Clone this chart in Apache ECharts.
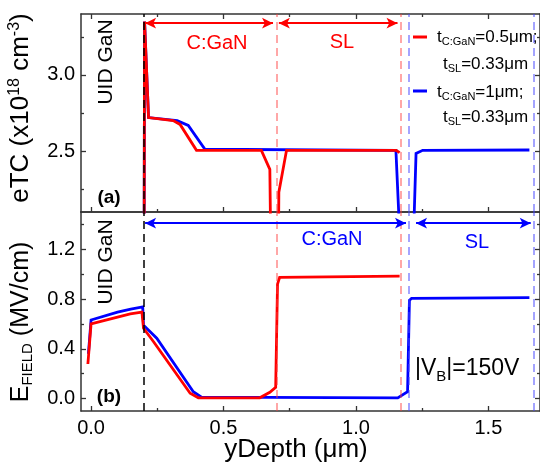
<!DOCTYPE html>
<html>
<head>
<meta charset="utf-8">
<script src="https://cdn.jsdelivr.net/npm/echarts@6/dist/echarts.min.js"></script>
<style>
  html, body { margin: 0; padding: 0; background: #fff; }
  #chart { width: 540px; height: 468px; }
</style>
</head>
<body>
<div id="chart"></div>
<script>
// ---- Panel (a): trap concentration eTC (x1e18 cm^-3) vs depth (um) ----
// t_C:GaN = 0.5 um, t_SL = 0.33 um
const depthEtcThin = [0.200, 0.202, 0.217, 0.310, 0.336, 0.398, 0.643, 0.675, 0.681, 0.706, 0.709, 0.738, 1.152, 1.165];
const etcThin      = [1.50,  3.35,  2.72,  2.70,  2.675, 2.505, 2.505, 2.38,  1.50,  1.50,  2.23,  2.505, 2.505, 2.49];
// t_C:GaN = 1 um, t_SL = 0.33 um
const depthEtcThick = [0.200, 0.202, 0.217, 0.325, 0.367, 0.430, 1.151, 1.177, 1.210, 1.227, 1.252, 1.655];
const etcThick      = [1.50,  3.35,  2.72,  2.70,  2.668, 2.512, 2.505, 1.50,  1.50,  2.485, 2.505, 2.507];

// ---- Panel (b): electric field (MV/cm) vs depth (um) ----
const depthFieldThin = [-0.012, 0.000, 0.100, 0.148, 0.192, 0.198, 0.236, 0.374, 0.405, 0.637, 0.675, 0.697, 0.704, 0.712, 1.165];
const fieldThin      = [0.278,  0.600, 0.655, 0.680, 0.695, 0.565, 0.457, 0.043, 0.006, 0.006, 0.050, 0.090, 0.920, 0.975, 0.985];
const depthFieldThick = [-0.010, 0.000, 0.100, 0.150, 0.195, 0.198, 0.248, 0.386, 0.417, 1.158, 1.195, 1.202, 1.210, 1.655];
const fieldThick      = [0.360,  0.632, 0.695, 0.720, 0.737, 0.590, 0.485, 0.055, 0.012, 0.005, 0.055, 0.790, 0.805, 0.812];

// Layer boundaries (um)
const uidEdge = 0.195;
const thinEdges = [0.699, 1.166];
const thickEdges = [1.202, 1.672];

// Layer spans shown with double arrows
const thinSpans = [[0.204, 0.687], [0.709, 1.157]];
const thickSpans = [[0.204, 1.189], [1.227, 1.660]];
const thinArrowY = 3.34;
const thickArrowY = 1.41;

// Tick values
const depthTicks = [0, 0.5, 1.0, 1.5];
const depthMinor = [0.25, 0.75, 1.25];
const etcTicks = [2.5, 3.0];
const etcMinor = [2.25, 2.75, 3.25];
const fieldTicks = [0, 0.4, 0.8, 1.2];
const fieldMinor = [0.2, 0.6, 1.0, 1.4];

const FONT = '"Liberation Sans", Arial, sans-serif';
const AXC = '#333';
const RED = '#ff0000';
const BLUE = '#0000ff';
const X_MIN = -0.038, X_MAX = 1.695;

const zip = (xs, ys) => xs.map((x, i) => [x, ys[i]]);

function xAxis(grid, pos, ticks, len, showLabels, showLine) {
  return {
    type: 'value', gridIndex: grid, position: pos, min: X_MIN, max: X_MAX,
    axisLine: { show: showLine, onZero: false, lineStyle: { color: AXC, width: 1.5 } },
    axisTick: { show: ticks.length > 0, inside: true, length: len, customValues: ticks,
                lineStyle: { color: AXC, width: 1.3 } },
    axisLabel: { show: showLabels, customValues: ticks, margin: 7, color: '#000',
                 fontSize: 20, fontFamily: FONT, formatter: v => v.toFixed(1) },
    splitLine: { show: false }
  };
}
function yAxis(grid, pos, min, max, ticks, len, showLabels, showLine) {
  return {
    type: 'value', gridIndex: grid, position: pos, min: min, max: max,
    axisLine: { show: showLine, onZero: false, lineStyle: { color: AXC, width: 1.5 } },
    axisTick: { show: ticks.length > 0, inside: true, length: len, customValues: ticks,
                lineStyle: { color: AXC, width: 1.3 } },
    axisLabel: { show: showLabels, customValues: ticks, margin: 6, color: '#000',
                 fontSize: 20, fontFamily: FONT, formatter: v => v.toFixed(1) },
    splitLine: { show: false }
  };
}

const gridA = { left: 81, top: 14, width: 460.5, height: 198 };
const gridB = { left: 81, top: 212, width: 460.5, height: 199 };

function boundaryLines() {
  const dash = (x, color) => ({ xAxis: x, lineStyle: { color: color, type: [8, 5], width: 1.5 } });
  return [
    dash(uidEdge, '#000'),
    dash(thinEdges[0], 'rgba(255,60,60,0.6)'),
    dash(thinEdges[1], 'rgba(255,60,60,0.6)'),
    dash(thickEdges[0], 'rgba(70,70,255,0.65)'),
    dash(thickEdges[1], 'rgba(70,70,255,0.65)')
  ];
}
function spanArrows(spans, y, color) {
  return spans.map(s => [
    { coord: [s[0], y], symbol: 'arrow', symbolSize: [8, 11], lineStyle: { color: color, width: 2, type: 'solid' }, itemStyle: { color: color } },
    { coord: [s[1], y], symbol: 'arrow', symbolSize: [8, 11], itemStyle: { color: color } }
  ]);
}
function markLines(extra) {
  return {
    silent: true, symbol: 'none', animation: false,
    label: { show: false }, emphasis: { disabled: true },
    data: boundaryLines().concat(extra)
  };
}

function lineSeries(name, data, color, xi, yi, ml) {
  const s = {
    name: name, type: 'line', xAxisIndex: xi, yAxisIndex: yi, data: data,
    showSymbol: false, symbol: 'none', color: color, clip: true,
    lineStyle: { color: color, width: 2.8, join: 'miter' },
    emphasis: { disabled: true }, animation: false
  };
  if (ml) s.markLine = ml;
  return s;
}

function rt(x, y, text, rich, opts) {
  return Object.assign({
    type: 'text', x: x, y: y, silent: true,
    style: Object.assign({ text: text, rich: rich, align: 'center', verticalAlign: 'middle',
                           textAlign: 'center', textVerticalAlign: 'middle' }, (opts && opts.style) || {})
  }, (opts && opts.el) || {});
}
function tok(size, color, extra) {
  return Object.assign({ fontSize: size, fontFamily: FONT, fill: color, color: color }, extra || {});
}

const legendRich = {
  m: tok(17, '#000'),
  s: tok(11, '#000', { padding: [10, 0, 0, 0] })
};

const chart = echarts.init(document.getElementById('chart'), null, { renderer: 'canvas' });
chart.setOption({
  backgroundColor: '#fff',
  animation: false,
  grid: [gridA, gridB, Object.assign({}, gridA), Object.assign({}, gridB)],
  xAxis: [
    xAxis(0, 'bottom', depthTicks, 5, false, true),
    xAxis(0, 'top', depthTicks, 5, false, true),
    xAxis(1, 'bottom', depthTicks, 5, true, true),
    xAxis(1, 'top', [], 5, false, true),
    xAxis(2, 'bottom', depthMinor, 3, false, false),
    xAxis(2, 'top', depthMinor, 3, false, false),
    xAxis(3, 'bottom', depthMinor, 3, false, false),
    xAxis(3, 'top', [], 3, false, false)
  ],
  yAxis: [
    yAxis(0, 'left', 2.1, 3.4, etcTicks, 5, true, true),
    yAxis(0, 'right', 2.1, 3.4, etcTicks, 5, false, true),
    yAxis(1, 'left', -0.1, 1.5, fieldTicks, 5, true, true),
    yAxis(1, 'right', -0.1, 1.5, fieldTicks, 5, false, true),
    yAxis(2, 'left', 2.1, 3.4, etcMinor, 3, false, false),
    yAxis(2, 'right', 2.1, 3.4, etcMinor, 3, false, false),
    yAxis(3, 'left', -0.1, 1.5, fieldMinor, 3, false, false),
    yAxis(3, 'right', -0.1, 1.5, fieldMinor, 3, false, false)
  ],
  series: [
    lineSeries('tC:GaN=1µm', zip(depthEtcThick, etcThick), BLUE, 0, 0,
               markLines(spanArrows(thinSpans, thinArrowY, RED))),
    lineSeries('tC:GaN=0.5µm', zip(depthEtcThin, etcThin), RED, 0, 0),
    lineSeries('tC:GaN=1µm', zip(depthFieldThick, fieldThick), BLUE, 2, 2,
               markLines(spanArrows(thickSpans, thickArrowY, BLUE))),
    lineSeries('tC:GaN=0.5µm', zip(depthFieldThin, fieldThin), RED, 2, 2)
  ],
  graphic: [
    // axis titles
    rt(21, 108, '{m|eTC (x10}{p|18}{m| cm}{p|-3}{m|)}',
       { m: tok(26, '#000'), p: tok(16, '#000', { padding: [0, 0, 12, 0] }) },
       { el: { rotation: Math.PI / 2 } }),
    rt(21, 322, '{m|E}{s|FIELD}{m| (MV/cm)}',
       { m: tok(25, '#000'), s: tok(15, '#000', { padding: [14, 0, 0, 0] }) },
       { el: { rotation: Math.PI / 2 } }),
    rt(296, 450, '{m|yDepth (μm)}', { m: tok(26, '#000') }),

    // layer names
    rt(106, 62, '{m|UID GaN}', { m: tok(21, '#000') }, { el: { rotation: Math.PI / 2 } }),
    rt(106, 262, '{m|UID GaN}', { m: tok(21, '#000') }, { el: { rotation: Math.PI / 2 } }),
    rt(217, 43, '{m|C:GaN}', { m: tok(20, RED) }),
    rt(342, 42, '{m|SL}', { m: tok(20, RED) }),
    rt(332, 239, '{m|C:GaN}', { m: tok(20, BLUE) }),
    rt(477, 242, '{m|SL}', { m: tok(20, BLUE) }),

    // panel tags
    rt(109, 198, '{m|(a)}', { m: tok(19, '#000', { fontWeight: 'bold' }) }),
    rt(109, 397, '{m|(b)}', { m: tok(19, '#000', { fontWeight: 'bold' }) }),

    // bias annotation
    rt(415, 369, '{m||V}{s|B}{m||=150V}',
       { m: tok(23, '#000'), s: tok(15, '#000', { padding: [16, 0, 0, 0] }) },
       { style: { align: 'left', textAlign: 'left' } }),

    // legend
    { type: 'line', silent: true, shape: { x1: 413, y1: 37, x2: 427, y2: 37 }, style: { stroke: RED, lineWidth: 3 } },
    rt(437, 37, '{m|t}{s|C:GaN}{m|=0.5μm;}', legendRich, { style: { align: 'left', textAlign: 'left' } }),
    rt(443, 64, '{m|t}{s|SL}{m|=0.33μm}', legendRich, { style: { align: 'left', textAlign: 'left' } }),
    { type: 'line', silent: true, shape: { x1: 413, y1: 91, x2: 427, y2: 91 }, style: { stroke: BLUE, lineWidth: 3 } },
    rt(437, 92, '{m|t}{s|C:GaN}{m|=1μm;}', legendRich, { style: { align: 'left', textAlign: 'left' } }),
    rt(443, 117, '{m|t}{s|SL}{m|=0.33μm}', legendRich, { style: { align: 'left', textAlign: 'left' } })
  ]
});
</script>
</body>
</html>
